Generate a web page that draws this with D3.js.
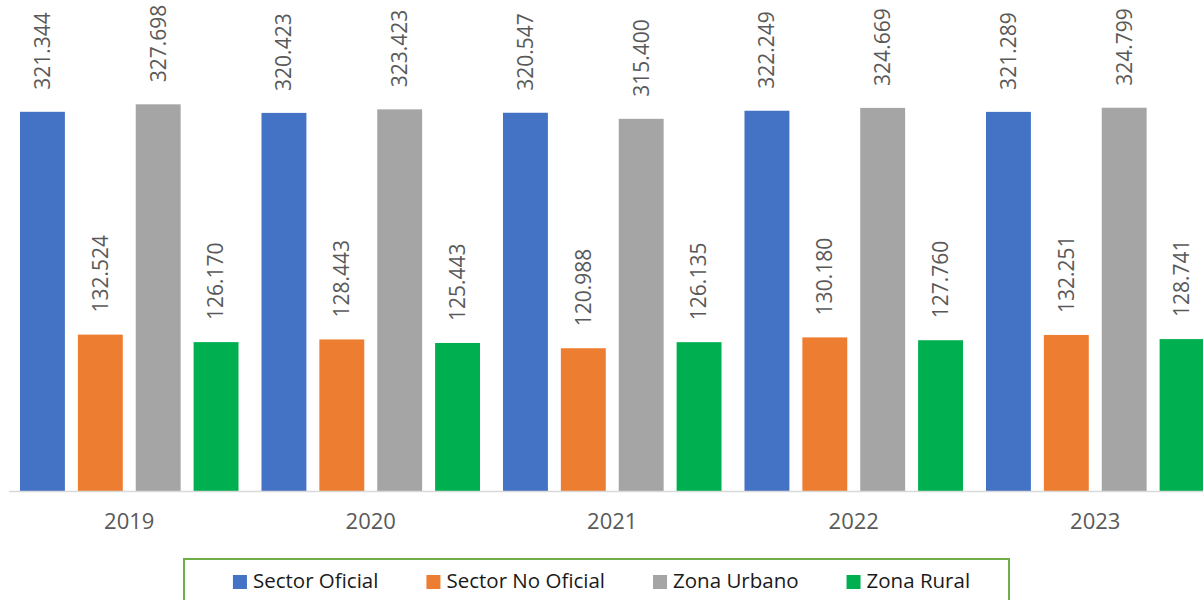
<!DOCTYPE html>
<html>
<head>
<meta charset="utf-8">
<title>Matrícula por sector y zona</title>
<script src="https://d3js.org/d3.v7.min.js"></script>
<style>
  body { margin: 0; background: #fff; }
  svg { display: block; font-family: "Open Sans", "Noto Sans", sans-serif; }
</style>
</head>
<body>
<div id="chart"></div>
<script>
// data
var years = ["2019", "2020", "2021", "2022", "2023"];
var seriesNames = ["Sector Oficial", "Sector No Oficial", "Zona Urbano", "Zona Rural"];
var sectorOficial = [321.344, 320.423, 320.547, 322.249, 321.289];
var sectorNoOficial = [132.524, 128.443, 120.988, 130.180, 132.251];
var zonaUrbano = [327.698, 323.423, 315.400, 324.669, 324.799];
var zonaRural = [126.170, 125.443, 126.135, 127.760, 128.741];

var colors = ["#4472C4", "#ED7D31", "#A5A5A5", "#00B050"];
var allSeries = [sectorOficial, sectorNoOficial, zonaUrbano, zonaRural];

var width = 1203, height = 600;
var baseY = 491;

var svg = d3.select("#chart").append("svg")
  .attr("width", width)
  .attr("height", height);

// scales
var x0 = d3.scaleBand().domain(years).range([8.5, 1216]).padding(0);
var x1 = d3.scaleBand().domain(seriesNames).range([5, 236.5])
  .paddingInner(0.224).paddingOuter(0.112);
var y = d3.scaleLinear().domain([0, 400]).range([baseY, 19]);

var fmt = d3.format(".3f");

// bars
var groups = svg.selectAll("g.year")
  .data(years)
  .enter().append("g")
  .attr("class", "year")
  .attr("transform", function(d) { return "translate(" + x0(d) + ",0)"; });

groups.each(function(yr, i) {
  var g = d3.select(this);
  var rows = seriesNames.map(function(s, j) {
    return { name: s, value: allSeries[j][i], color: colors[j] };
  });

  g.selectAll("rect")
    .data(rows)
    .enter().append("rect")
    .attr("x", function(d) { return x1(d.name); })
    .attr("y", function(d) { return y(d.value); })
    .attr("width", x1.bandwidth())
    .attr("height", function(d) { return baseY - y(d.value); })
    .style("fill", function(d) { return d.color; });

  // rotated value labels
  g.selectAll("text.val")
    .data(rows)
    .enter().append("text")
    .attr("class", "val")
    .attr("transform", function(d) {
      return "translate(" + (x1(d.name) + x1.bandwidth() / 2) + "," + (y(d.value) - 22) + ") rotate(-90)";
    })
    .attr("dy", "0.35em")
    .style("font-size", "21px")
    .style("fill", "#595959")
    .text(function(d) { return fmt(d.value); });
});

// axis line
svg.append("line")
  .attr("x1", 9).attr("x2", width)
  .attr("y1", baseY + 0.5).attr("y2", baseY + 0.5)
  .style("stroke", "#D9D9D9")
  .style("stroke-width", 1.5);

// category labels
svg.selectAll("text.cat")
  .data(years)
  .enter().append("text")
  .attr("class", "cat")
  .attr("x", function(d) { return x0(d) + x0.bandwidth() / 2; })
  .attr("y", 529)
  .attr("text-anchor", "middle")
  .style("font-size", "22px")
  .style("fill", "#595959")
  .text(function(d) { return d; });

// legend
svg.append("rect")
  .attr("x", 184).attr("y", 559)
  .attr("width", 825).attr("height", 60)
  .style("fill", "none")
  .style("stroke", "#70AD47")
  .style("stroke-width", 2);

var legend = svg.append("g");
var items = legend.selectAll("g")
  .data(seriesNames)
  .enter().append("g");

items.append("rect")
  .attr("y", 575)
  .attr("width", 14).attr("height", 14)
  .style("fill", function(d, i) { return colors[i]; });

items.append("text")
  .attr("x", 20)
  .attr("y", 588)
  .style("font-size", "20.5px")
  .style("fill", "#1a1a1a")
  .text(function(d) { return d; });

var pos = 0, offsets = [];
items.each(function() {
  offsets.push(pos);
  var w = d3.select(this).select("text").node().getComputedTextLength();
  pos += 20 + w + 48;
});
var total = pos - 48;
var startX = 601.5 - total / 2;
items.attr("transform", function(d, i) { return "translate(" + (startX + offsets[i]) + ",0)"; });
</script>
</body>
</html>
